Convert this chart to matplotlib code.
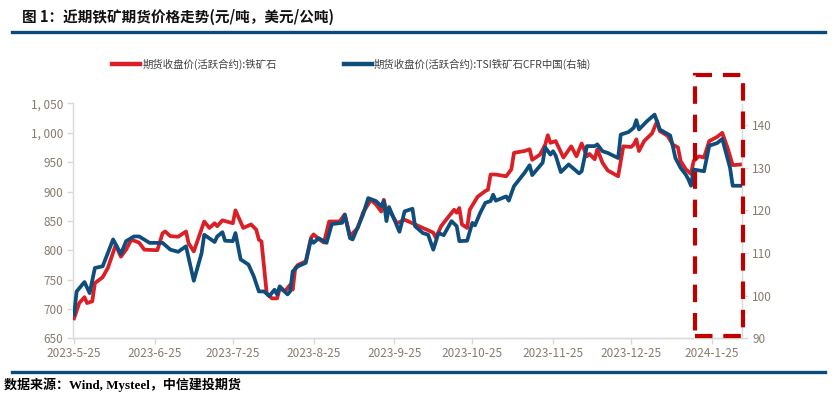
import matplotlib
matplotlib.use("Agg")
import matplotlib.pyplot as plt
from matplotlib.patches import Rectangle
from matplotlib.lines import Line2D
import pandas as pd

plt.rcParams['font.family'] = ['Noto Sans CJK SC', 'DejaVu Sans']

# ---------------- data ----------------
red_dates = ["2023-05-25","2023-05-27","2023-05-29","2023-05-30","2023-06-01","2023-06-02","2023-06-05","2023-06-07",
             "2023-06-10","2023-06-12","2023-06-14","2023-06-16","2023-06-19","2023-06-21","2023-06-26","2023-06-28",
             "2023-06-29","2023-07-01","2023-07-04","2023-07-07","2023-07-08","2023-07-10","2023-07-14","2023-07-16",
             "2023-07-18","2023-07-19","2023-07-21","2023-07-25","2023-07-26","2023-07-29","2023-08-01","2023-08-03",
             "2023-08-04","2023-08-05","2023-08-07","2023-08-09","2023-08-11","2023-08-12","2023-08-14","2023-08-16",
             "2023-08-17","2023-08-18","2023-08-19","2023-08-22","2023-08-24","2023-08-25","2023-08-27","2023-08-29",
             "2023-08-31","2023-09-04","2023-09-06","2023-09-08","2023-09-11","2023-09-13","2023-09-16","2023-09-18",
             "2023-09-20","2023-09-21","2023-09-22","2023-09-23","2023-09-26","2023-09-29","2023-10-02","2023-10-05",
             "2023-10-10","2023-10-11","2023-10-13","2023-10-16","2023-10-18","2023-10-19","2023-10-20","2023-10-21",
             "2023-10-23","2023-10-24","2023-10-27","2023-10-30","2023-10-31","2023-11-01","2023-11-03","2023-11-07",
             "2023-11-09","2023-11-10","2023-11-14","2023-11-16","2023-11-17","2023-11-20","2023-11-22","2023-11-23",
             "2023-11-24","2023-11-26","2023-11-29","2023-12-02","2023-12-04","2023-12-06","2023-12-08","2023-12-09",
             "2023-12-11","2023-12-12","2023-12-14","2023-12-16","2023-12-20","2023-12-22","2023-12-25","2023-12-26",
             "2023-12-27","2023-12-28","2023-12-30","2024-01-02","2024-01-04","2024-01-05","2024-01-08","2024-01-10",
             "2024-01-12","2024-01-13","2024-01-15","2024-01-17","2024-01-18","2024-01-20","2024-01-22","2024-01-24",
             "2024-01-27","2024-01-29","2024-01-31","2024-02-01","2024-02-02","2024-02-05"]
red_values = [684, 710, 720, 710, 713, 744, 754, 770,
              809, 789, 801, 818, 813, 801, 800, 829,
              832, 824, 823, 832, 812, 798, 849, 838,
              846, 841, 851, 846, 868, 838, 844, 835,
              818, 815, 727, 718, 718, 735, 730, 741,
              733, 770, 775, 781, 821, 827, 819, 813,
              849, 849, 861, 824, 838, 864, 886, 878,
              866, 886, 866, 869, 846, 852, 846, 840,
              830, 821, 841, 858, 869, 864, 872, 844,
              838, 869, 891, 901, 903, 929, 929, 926,
              938, 966, 969, 972, 954, 963, 980, 996,
              983, 986, 958, 977, 960, 982, 960, 964,
              955, 972, 949, 936, 926, 977, 976, 980,
              989, 969, 986, 999, 1020, 1003, 995, 980,
              975, 952, 938, 930, 952, 960, 958, 986,
              993, 1000, 975, 960, 945, 946]

blue_dates = ["2023-05-25","2023-05-26","2023-05-29","2023-05-31","2023-06-02","2023-06-05","2023-06-09","2023-06-12",
              "2023-06-14","2023-06-17","2023-06-19","2023-06-23","2023-06-28","2023-07-01","2023-07-04","2023-07-07",
              "2023-07-10","2023-07-13","2023-07-14","2023-07-18","2023-07-19","2023-07-21","2023-07-22","2023-07-25",
              "2023-07-26","2023-07-28","2023-07-31","2023-08-02","2023-08-04","2023-08-06","2023-08-08","2023-08-10",
              "2023-08-11","2023-08-12","2023-08-15","2023-08-16","2023-08-17","2023-08-19","2023-08-22","2023-08-24",
              "2023-08-25","2023-08-27","2023-08-30","2023-09-01","2023-09-05","2023-09-06","2023-09-08","2023-09-09",
              "2023-09-13","2023-09-15","2023-09-18","2023-09-20","2023-09-21","2023-09-22","2023-09-23","2023-09-27",
              "2023-09-29","2023-10-02","2023-10-03","2023-10-06","2023-10-08","2023-10-10","2023-10-12","2023-10-14",
              "2023-10-17","2023-10-19","2023-10-20","2023-10-23","2023-10-25","2023-10-26","2023-10-28","2023-10-30",
              "2023-11-01","2023-11-02","2023-11-03","2023-11-07","2023-11-08","2023-11-10","2023-11-14","2023-11-16",
              "2023-11-17","2023-11-21","2023-11-22","2023-11-24","2023-11-25","2023-11-26","2023-11-28","2023-12-01",
              "2023-12-05","2023-12-06","2023-12-08","2023-12-11","2023-12-12","2023-12-14","2023-12-16","2023-12-20",
              "2023-12-21","2023-12-24","2023-12-26","2023-12-27","2023-12-28","2023-12-31","2024-01-03","2024-01-05",
              "2024-01-09","2024-01-10","2024-01-11","2024-01-13","2024-01-15","2024-01-16","2024-01-17","2024-01-18",
              "2024-01-22","2024-01-24","2024-01-27","2024-01-29","2024-02-01","2024-02-02","2024-02-05"]
blue_values = [95.6, 101.0, 103.2, 100.6, 106.5, 106.9, 113.2, 109.8,
               112.8, 113.9, 113.9, 112.4, 112.4, 110.8, 110.3, 111.6,
               103.5, 110.0, 114.3, 112.6, 113.9, 114.9, 112.9, 112.8,
               114.7, 108.5, 107.3, 104.6, 101.0, 101.0, 99.9, 101.4,
               100.3, 102.2, 100.3, 101.0, 105.7, 106.9, 107.7, 113.2,
               112.4, 113.5, 112.4, 116.8, 117.1, 119.0, 113.5, 113.2,
               119.0, 122.9, 122.2, 121.0, 122.2, 117.5, 120.8, 115.0,
               119.8, 120.4, 116.3, 114.7, 114.3, 110.8, 114.7, 114.2,
               117.5, 116.3, 112.8, 112.9, 117.1, 116.5, 119.4, 121.8,
               122.2, 123.7, 122.3, 123.3, 122.3, 125.7, 128.8, 130.6,
               128.3, 131.2, 134.8, 133.1, 133.9, 132.9, 129.0, 130.8,
               128.7, 129.2, 135.1, 135.1, 135.5, 133.9, 133.5, 132.3,
               137.8, 138.4, 139.4, 141.2, 139.0, 140.9, 142.5, 139.0,
               137.6, 135.1, 132.3, 130.0, 128.4, 127.3, 125.8, 129.6,
               129.2, 135.2, 135.8, 136.8, 130.0, 125.8, 125.8]

x_tick_dates = ["2023-05-25","2023-06-25","2023-07-25","2023-08-25","2023-09-25",
                "2023-10-25","2023-11-25","2023-12-25","2024-01-25"]
x_tick_labels = ["2023-5-25","2023-6-25","2023-7-25","2023-8-25","2023-9-25",
                 "2023-10-25","2023-11-25","2023-12-25","2024-1-25"]
left_ticks = [650, 700, 750, 800, 850, 900, 950, 1000, 1050]
left_tick_labels = ["650", "700", "750", "800", "850", "900", "950", "1, 000", "1, 050"]
right_ticks = [90, 100, 110, 120, 130, 140]

red_label = "期货收盘价(活跃合约):铁矿石"
blue_label = "期货收盘价(活跃合约):TSI铁矿石CFR中国(右轴)"
title_text = "图 1：近期铁矿期货价格走势(元/吨，美元/公吨)"
source_text = "数据来源：Wind, Mysteel，中信建投期货"

RED = "#DA1F26"
BLUE = "#0E4D7C"
NAVY = "#0B4A7B"
GRID = "#D9D9D9"
TXT = "#8A7A6A"

W, H = 835, 396
fig = plt.figure(figsize=(W / 100, H / 100), dpi=100)
fig.patch.set_facecolor("white")

L, R, T, B = 73, 742.3, 103.5, 338.3
ax = fig.add_axes([L / W, 1 - B / H, (R - L) / W, (B - T) / H])
ax2 = ax.twinx()

rd = pd.to_datetime(red_dates)
bd = pd.to_datetime(blue_dates)
ax.plot(rd, red_values, color=RED, lw=2.7, solid_joinstyle="round", zorder=3)
ax2.plot(bd, blue_values, color=BLUE, lw=2.7, solid_joinstyle="round", zorder=3)

x0 = pd.Timestamp("2023-05-25")
ax.set_xlim(x0 - pd.Timedelta(days=0.4), x0 + pd.Timedelta(days=256.7))
ax.set_ylim(650, 1050)
ax2.set_ylim(90, 145.1)

ax.set_xticks(pd.to_datetime(x_tick_dates))
ax.set_xticklabels(x_tick_labels)
ax.set_yticks(left_ticks)
ax.set_yticklabels(left_tick_labels)
ax2.set_yticks(right_ticks)

for a in (ax, ax2):
    for s in a.spines.values():
        s.set_color(GRID)
        s.set_linewidth(1.0)
    a.spines["top"].set_visible(False)
    a.tick_params(colors=GRID, labelcolor=TXT, labelsize=8.5, length=4, width=1)
ax2.spines["left"].set_visible(False)
ax.spines["right"].set_visible(False)
ax.tick_params(axis="x", pad=2)
ax.tick_params(axis="y", pad=3)
ax2.tick_params(axis="y", pad=3)

# legend
handles = [Line2D([], [], color=RED, lw=3.2), Line2D([], [], color=BLUE, lw=3.2)]
leg = fig.legend(handles, [red_label, blue_label], loc="center left",
                 bbox_to_anchor=(112 / W, 1 - 64 / H), ncol=2, frameon=False,
                 fontsize=7.5, handlelength=2.7, handletextpad=0.2,
                 columnspacing=6.45, borderaxespad=0, borderpad=0)
for t in leg.get_texts():
    t.set_color("#404040")

# red dashed highlight box
rect = Rectangle((695 / W, 1 - 336 / H), (743 - 695) / W, (336 - 75) / H,
                 transform=fig.transFigure, fill=False, edgecolor="#C00000",
                 lw=3.0, linestyle=(0, (4.2, 2.6)), zorder=10)
fig.add_artist(rect)

# header and footer
fig.add_artist(Line2D([12 / W, 825 / W], [1 - 32 / H, 1 - 32 / H], color=NAVY, lw=2.4,
                      transform=fig.transFigure))
fig.add_artist(Line2D([12 / W, 825 / W], [1 - 372 / H, 1 - 372 / H], color=NAVY, lw=2.4,
                      transform=fig.transFigure))
fig.text(22 / W, 1 - 17 / H, title_text, fontsize=10.5, fontweight="bold",
         va="center", ha="left", color="#111111")
fig.text(4 / W, 1 - 385 / H, source_text, fontsize=9.4, fontweight="bold",
         va="center", ha="left", color="#000000",
         family=["Liberation Serif", "Noto Sans CJK SC"])

fig.savefig("out.png", dpi=100)
